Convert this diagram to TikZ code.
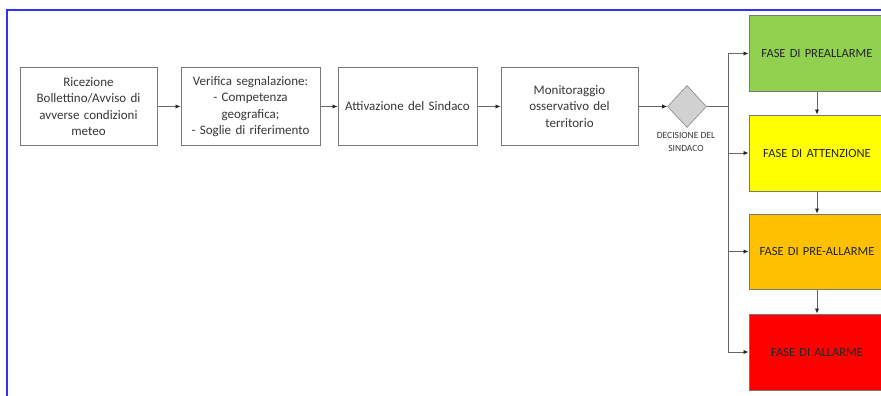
\documentclass[tikz,border=0pt]{standalone}
\usepackage{fontspec}
\setmainfont{Carlito}
\usetikzlibrary{shapes.geometric,arrows.meta}
\definecolor{framecol}{RGB}{50,50,245}
\definecolor{edgecol}{RGB}{120,120,120}
\definecolor{txtcol}{RGB}{55,55,55}
\definecolor{phgreen}{RGB}{146,208,80}
\definecolor{phyellow}{RGB}{255,255,0}
\definecolor{phorange}{RGB}{255,192,0}
\definecolor{phred}{RGB}{255,0,0}
\begin{document}
\begin{tikzpicture}[x=1pt,y=-1pt,
  stepbox/.style={draw=edgecol,line width=1pt,fill=white,align=center,
    text=txtcol,font=\fontsize{13}{16.5}\selectfont,inner sep=2pt,
    minimum height=78pt,text width=132pt},
  phasebox/.style={draw=edgecol,line width=1pt,align=center,
    text=black!85,font=\fontsize{12.5}{14}\selectfont,
    minimum width=136pt,text width=132pt,inner sep=2pt},
  link/.style={draw=black!60,line width=0.9pt,
    -{Latex[length=5pt,width=4.5pt,color=black!85]}},
  plain/.style={draw=black!60,line width=0.9pt}]
\useasboundingbox (0,0) rectangle (881,396);
\clip (0,0) rectangle (881,396);

% outer frame
\draw[framecol,line width=2pt] (881,10) -- (7,10) -- (7,397);

% main chain
\node[stepbox,minimum width=137pt] (ric) at (88.5,106.5)
  {Ricezione\\Bollettino/Avviso di\\avverse condizioni\\meteo};
\node[stepbox,minimum width=139pt] (ver) at (250.5,106.5)
  {Verifica segnalazione:\\- Competenza\\geografica;\\- Soglie di riferimento};
\node[stepbox,minimum width=139pt] (att) at (407.5,106.5)
  {Attivazione del Sindaco};
\node[stepbox,minimum width=137pt] (mon) at (569.5,106.5)
  {Monitoraggio\\osservativo del\\territorio};
\node[diamond,draw=black!40,fill=black!18,line width=0.8pt,inner sep=0pt,
  minimum width=39pt,minimum height=42pt] (dec) at (687,106.5) {};
\node[font=\fontsize{9.5}{12.5}\selectfont,text=txtcol,align=center]
  (declab) at (686,142) {DECISIONE DEL\\SINDACO};

% phases
\node[phasebox,fill=phgreen,minimum height=75pt] (p1) at (817,53.5)
  {FASE DI PREALLARME};
\node[phasebox,fill=phyellow,minimum height=76pt] (p2) at (817,153)
  {FASE DI ATTENZIONE};
\node[phasebox,fill=phorange,minimum height=75pt] (p3) at (817,251.5)
  {FASE DI PRE-ALLARME};
\node[phasebox,fill=phred,minimum height=76pt] (p4) at (817,352)
  {FASE DI ALLARME};

% connectors
\draw[link] (ric) -- (ver);
\draw[link] (ver) -- (att);
\draw[link] (att) -- (mon);
\draw[link] (mon) -- (dec);

\coordinate (bus) at (728,106.5);
\coordinate (bustop) at (728,53.5);
\coordinate (busbot) at (728,352);
\draw[plain] (dec.east) -- (bus);
\draw[plain] (bustop) -- (busbot);
\draw[link] (bustop) -- (p1.west);
\draw[link] (728,153) -- (p2.west);
\draw[link] (728,251.5) -- (p3.west);
\draw[link] (busbot) -- (p4.west);

\draw[link] (p1) -- (p2);
\draw[link] (p2) -- (p3);
\draw[link] (p3) -- (p4);
\end{tikzpicture}
\end{document}
